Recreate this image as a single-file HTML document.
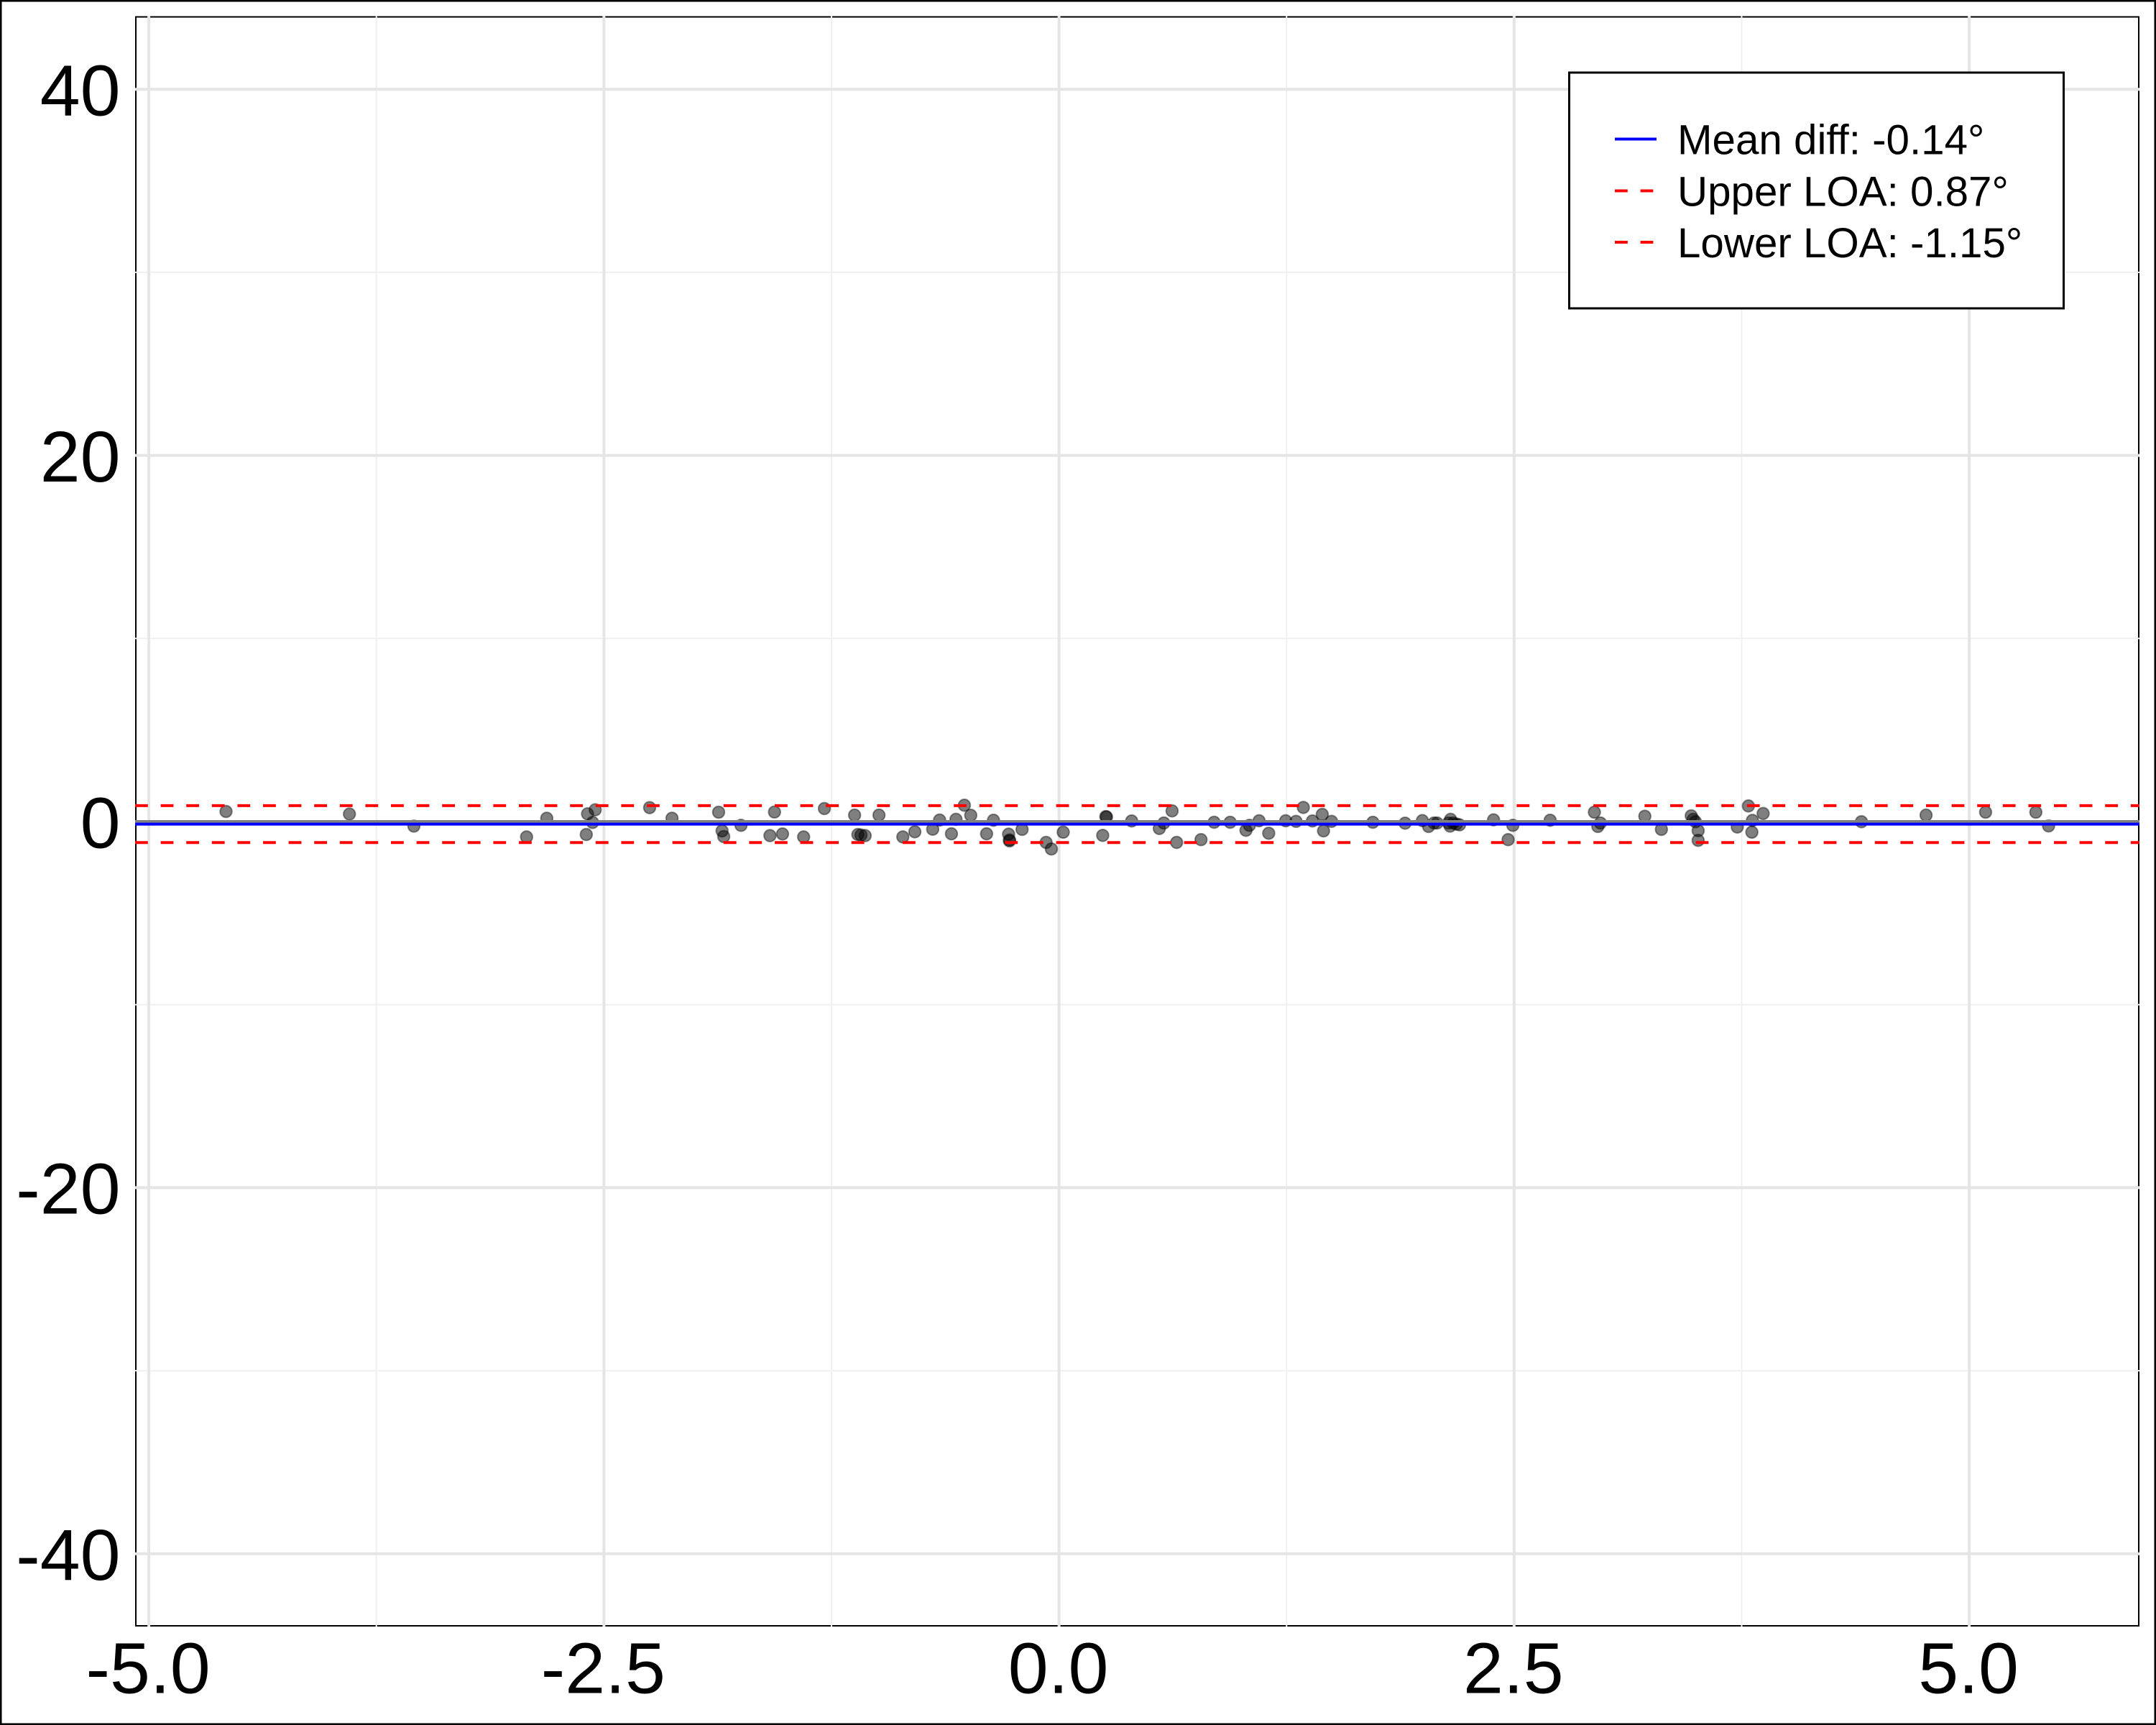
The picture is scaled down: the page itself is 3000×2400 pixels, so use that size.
<!DOCTYPE html>
<html lang="en">
<head>
<meta charset="utf-8">
<title>Bland-Altman plot</title>
<style>
html,body{margin:0;padding:0;background:#fff;}
#chart{display:block;width:3000px;height:2400px;}
text{font-family:"Liberation Sans",Arial,sans-serif;fill:#000;}
</style>
</head>
<body>
<svg id="chart" xmlns="http://www.w3.org/2000/svg" width="3000" height="2400" viewBox="0 0 3000 2400">
<rect x="1.25" y="1.25" width="2997.5" height="2397.5" fill="#fff" stroke="#000" stroke-width="2.5"/>
<rect x="189" y="23.5" width="2787" height="2238.5" fill="#fff" stroke="#000" stroke-width="2"/>
<g id="grid-minor"></g>
<g id="grid-major"></g>
<g id="points"></g>
<g id="ref-lines"></g>
<g id="x-labels"></g>
<g id="y-labels"></g>
<g>
<rect x="2183.5" y="101" width="688" height="328" fill="#fff" stroke="#000" stroke-width="3"/>
<line x1="2247" x2="2305" y1="193.5" y2="193.5" stroke="#0000ff" stroke-width="4"/>
<line x1="2247" x2="2301" y1="265.5" y2="265.5" stroke="#ff0000" stroke-width="4" stroke-dasharray="17.8 17.8"/>
<line x1="2247" x2="2301" y1="337" y2="337" stroke="#ff0000" stroke-width="4" stroke-dasharray="17.8 17.8"/>
<text x="2334" y="214.5" font-size="58.3">Mean diff: -0.14°</text>
<text x="2334" y="286.5" font-size="58.3">Upper LOA: 0.87°</text>
<text x="2334" y="358" font-size="58.3">Lower LOA: -1.15°</text>
</g>
</svg>
<script>
const xTicks = [-5, -2.5, 0, 2.5, 5];
const xTickLabels = ["-5.0", "-2.5", "0.0", "2.5", "5.0"];
const xMinorTicks = [-3.75, -1.25, 1.25, 3.75];
const yTicks = [-40, -20, 0, 20, 40];
const yTickLabels = ["-40", "-20", "0", "20", "40"];
const yMinorTicks = [-30, -10, 10, 30];
const zeroValue = [0];
const meanDiff = [-0.14];
const upperLoa = [0.87];
const lowerLoa = [-1.15];
const pointMeans = [
-4.576,-3.898,-3.544,-2.925,-2.814,-2.597,-2.590,-2.548,-2.562,
-2.249,-2.126,-1.870,-1.851,-1.842,-1.747,-1.588,-1.563,-1.519,-1.403,-1.289,
-1.123,-1.105,-1.088,-1.065,-0.989,-0.858,-0.792,-0.694,-0.656,-0.591,-0.566,-0.520,-0.485,
-0.398,-0.360,-0.277,-0.272,-0.272,-0.203,-0.071,-0.042,0.023,0.240,0.257,0.261,
0.399,0.551,0.576,0.621,0.646,0.780,0.852,0.940,1.027,1.046,1.099,1.152,1.245,1.302,1.342,1.392,1.446,1.453,1.497,
1.724,1.901,1.996,2.030,2.060,2.077,2.139,2.151,2.148,2.165,2.183,2.200,2.387,2.467,2.493,2.698,2.941,2.960,2.974,
3.218,3.309,3.473,3.484,3.496,3.511,3.511,3.726,3.787,3.809,3.806,3.868,4.408,4.763,5.090,5.366,5.436
];
const pointDiffs = [
0.55,0.41,-0.25,-0.84,0.18,-0.71,0.42,0.64,-0.05,
0.76,0.18,0.51,-0.51,-0.82,-0.21,-0.77,0.52,-0.68,-0.84,0.71,
0.35,-0.71,-0.74,-0.77,0.35,-0.84,-0.56,-0.42,0.08,-0.67,0.12,0.89,0.34,
-0.67,0.07,-0.69,-1.01,-1.06,-0.43,-1.14,-1.50,-0.58,-0.76,0.27,0.25,
0.03,-0.38,-0.08,0.58,-1.14,-0.99,-0.04,-0.04,-0.48,-0.21,0.04,-0.64,0.04,0.01,0.77,0.03,0.39,-0.51,0.01,
-0.04,-0.09,0.05,-0.27,-0.08,-0.08,-0.08,0.12,-0.25,-0.08,-0.14,-0.18,0.09,-0.99,-0.21,0.07,0.51,-0.27,-0.08,
0.29,-0.43,0.31,0.12,-0.01,-0.50,-1.03,-0.30,0.85,0.06,-0.58,0.44,-0.01,0.35,0.51,0.51,-0.24
];

const SVGNS = "http://www.w3.org/2000/svg";
const PANEL_LEFT = 188, PANEL_RIGHT = 2977, PANEL_TOP = 22.5, PANEL_BOTTOM = 2263;
function xScale(v) { return 1473.6 + v * 253.3; }
function yScale(v) { return 1143 - v * 25.47; }
function lineEl(parent, x1, y1, x2, y2, color, width) {
  const l = document.createElementNS(SVGNS, "line");
  l.setAttribute("x1", x1);
  l.setAttribute("y1", y1);
  l.setAttribute("x2", x2);
  l.setAttribute("y2", y2);
  l.setAttribute("stroke", color);
  l.setAttribute("stroke-width", width);
  parent.appendChild(l);
  return l;
}
const gMinor = document.getElementById("grid-minor");
const gMajor = document.getElementById("grid-major");
xMinorTicks.forEach(function (t) {
  const el = lineEl(gMinor, xScale(t), PANEL_TOP, xScale(t), PANEL_BOTTOM, "#f0f0f0", 2);
  
  
});
yMinorTicks.forEach(function (t) {
  const el = lineEl(gMinor, PANEL_LEFT, yScale(t), PANEL_RIGHT, yScale(t), "#f0f0f0", 2);
  
  
});
xTicks.forEach(function (t) {
  const el = lineEl(gMajor, xScale(t), PANEL_TOP, xScale(t), PANEL_BOTTOM, "#e5e5e5", 4);
  
  
});
yTicks.forEach(function (t) {
  const el = lineEl(gMajor, PANEL_LEFT, yScale(t), PANEL_RIGHT, yScale(t), "#e5e5e5", 4);
  
  
});
const gPoints = document.getElementById("points");
pointMeans.forEach(function (m, i) {
  const c = document.createElementNS(SVGNS, "circle");
  c.setAttribute("cx", xScale(m));
  c.setAttribute("cy", yScale(pointDiffs[i]));
  c.setAttribute("r", 8.3);
  c.setAttribute("fill", "rgba(0,0,0,0.5)");
  c.setAttribute("stroke", "rgba(0,0,0,0.4)");
  c.setAttribute("stroke-width", 2);
  
  
  gPoints.appendChild(c);
});
const gRef = document.getElementById("ref-lines");
const zeroLine = lineEl(gRef, PANEL_LEFT, yScale(zeroValue[0]), PANEL_RIGHT, yScale(zeroValue[0]), "#808080", 4);


const upperLine = lineEl(gRef, PANEL_LEFT, yScale(upperLoa[0]), PANEL_RIGHT, yScale(upperLoa[0]), "#ff0000", 4);
upperLine.setAttribute("stroke-dasharray", "17.8 17.8");


const lowerLine = lineEl(gRef, PANEL_LEFT, yScale(lowerLoa[0]), PANEL_RIGHT, yScale(lowerLoa[0]), "#ff0000", 4);
lowerLine.setAttribute("stroke-dasharray", "17.8 17.8");


const meanLine = lineEl(gRef, PANEL_LEFT, yScale(meanDiff[0]), PANEL_RIGHT, yScale(meanDiff[0]), "#0000ff", 4);


const gX = document.getElementById("x-labels");
xTicks.forEach(function (t, i) {
  const tx = document.createElementNS(SVGNS, "text");
  tx.setAttribute("x", xScale(t) - 1);
  tx.setAttribute("y", 2355.7);
  tx.setAttribute("text-anchor", "middle");
  tx.setAttribute("font-size", 100.5);
  tx.textContent = xTickLabels[i];
  
  
  gX.appendChild(tx);
});
const gY = document.getElementById("y-labels");
yTicks.forEach(function (t, i) {
  const ty = document.createElementNS(SVGNS, "text");
  ty.setAttribute("x", 167.5);
  ty.setAttribute("y", yScale(t) + 36.3);
  ty.setAttribute("text-anchor", "end");
  ty.setAttribute("font-size", 100.5);
  ty.textContent = yTickLabels[i];
  
  
  gY.appendChild(ty);
});
</script>
</body>
</html>
